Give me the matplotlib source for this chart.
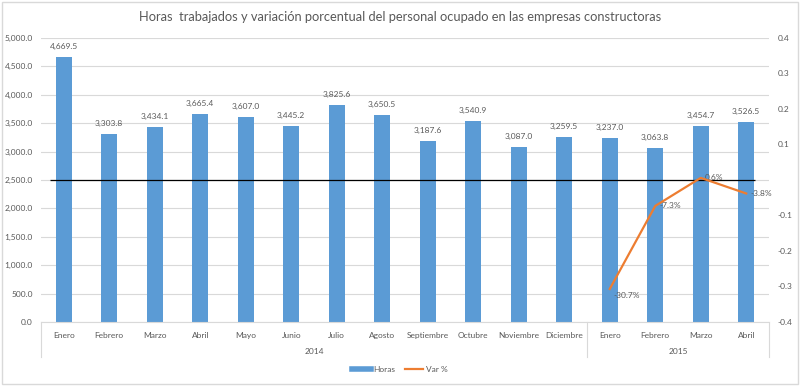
import matplotlib
matplotlib.use("Agg")
import matplotlib.pyplot as plt
from matplotlib.lines import Line2D
from matplotlib.patches import Rectangle

plt.rcParams['font.family'] = ['Lato', 'DejaVu Sans']

months = ["Enero", "Febrero", "Marzo", "Abril", "Mayo", "Junio", "Julio", "Agosto",
          "Septiembre", "Octubre", "Noviembre", "Diciembre",
          "Enero", "Febrero", "Marzo", "Abril"]
years = ["2014", "2015"]
year_counts = [12, 4]
horas = [4669.5, 3303.8, 3434.1, 3665.4, 3607.0, 3445.2, 3825.6, 3650.5,
         3187.6, 3540.9, 3087.0, 3259.5, 3237.0, 3063.8, 3454.7, 3526.5]
var_idx = [12, 13, 14, 15]
var_pct = [-0.307, -0.073, 0.006, -0.038]

BLUE = "#5B9BD5"
ORANGE = "#ED7D31"
GRID = "#D9D9D9"
TXT = "#595959"
FS = 6.0

fig = plt.figure(figsize=(8, 3.86), dpi=100)
ax = fig.add_axes([41/800, 1-322/386, (769-41)/800, (322-38)/386])
ax2 = ax.twinx()

x = list(range(len(horas)))
ax.bar(x, horas, width=0.35, color=BLUE, zorder=2)
ax.set_xlim(-0.5, len(horas)-0.5)
ax.set_ylim(0, 5000)
ax.set_yticks([i*500 for i in range(11)])
ax.set_yticklabels([f"{v:,.1f}" for v in ax.get_yticks()], color=TXT, fontsize=FS)
ax.grid(axis='y', color=GRID, linewidth=0.8, zorder=0)
ax.set_axisbelow(True)
ax.set_xticks(x)
ax.set_xticklabels(months, color=TXT, fontsize=FS)
ax.tick_params(axis='x', length=0, pad=7)
ax.tick_params(axis='y', length=0, pad=6)
for s in ['top', 'right', 'left']:
    ax.spines[s].set_visible(False)
ax.spines['bottom'].set_color(GRID)

for xi, v in zip(x, horas):
    ax.annotate(f"{v:,.1f}", (xi, v), xytext=(0, 5), textcoords='offset points',
                ha='center', va='bottom', fontsize=FS, color=TXT)

# two-level category axis
trans = ax.get_xaxis_transform()
bounds = [-0.5]
for c in year_counts:
    bounds.append(bounds[-1] + c)
for b in bounds:
    ax.plot([b, b], [0, -35/284], transform=trans, color=GRID, lw=0.8, clip_on=False)
for i, yr in enumerate(years):
    ax.text((bounds[i] + bounds[i+1]) / 2, -29/284, yr, transform=trans,
            ha='center', va='center', fontsize=FS, color=TXT)

# secondary axis
ax2.set_ylim(-0.4, 0.4)
ticks2 = [0.4, 0.3, 0.2, 0.1, -0.1, -0.2, -0.3, -0.4]
ax2.set_yticks(ticks2)
ax2.set_yticklabels([f"{t:.1f}" for t in ticks2], color=TXT, fontsize=FS)
ax2.tick_params(axis='y', length=0, pad=6)
for s in ax2.spines.values():
    s.set_visible(False)
ax2.hlines(0, -0.3, len(horas)-1+0.2, color='black', lw=0.9, zorder=3)
ax2.plot(var_idx, var_pct, color=ORANGE, lw=1.6, zorder=4)
for xi, v in zip(var_idx, var_pct):
    ax2.annotate(f"{v*100:.1f}%", (xi, v), xytext=(3, -2 if v < -0.2 else 0),
                 textcoords='offset points', ha='left',
                 va='top' if v < -0.2 else 'center', fontsize=FS, color=TXT)

fig.text(0.5, 1-17/386, "Horas  trabajados y variación porcentual del personal ocupado en las empresas constructoras",
         ha='center', va='center', fontsize=9.3, color=TXT)

handles = [Line2D([0], [0], color=BLUE, lw=4), Line2D([0], [0], color=ORANGE, lw=1.6)]
fig.legend(handles, ["Horas", "Var %"], loc='center', bbox_to_anchor=(0.5, 1-369/386),
           ncol=2, frameon=False, fontsize=FS, handlelength=2.2, handletextpad=0.3,
           columnspacing=1.2, labelcolor=TXT)

fig.patches.append(Rectangle((0.002, 0.004), 0.996, 0.992, transform=fig.transFigure,
                             fill=False, edgecolor=GRID, lw=1))

fig.savefig("out.png", dpi=100)
